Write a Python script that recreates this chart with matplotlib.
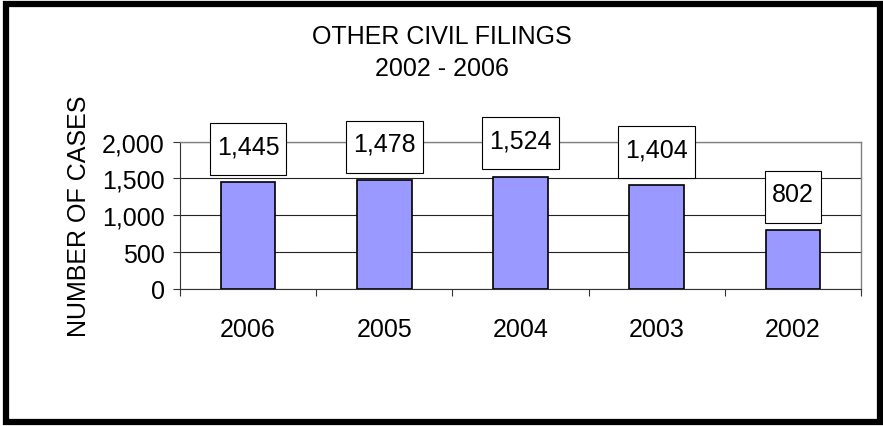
import matplotlib
matplotlib.use('Agg')
import matplotlib.pyplot as plt
from matplotlib.patches import Rectangle
from matplotlib.transforms import IdentityTransform
from matplotlib.ticker import FuncFormatter, FixedLocator

plt.rcParams['font.family'] = ['Liberation Sans', 'DejaVu Sans']

years = ['2006', '2005', '2004', '2003', '2002']
cases = [1445, 1478, 1524, 1404, 802]
y_ticks = [0, 500, 1000, 1500, 2000]

fs = 18
fig = plt.figure(figsize=(8.83, 4.27), dpi=100)
ax = fig.add_axes([180 / 883, 1 - 290 / 427, 681 / 883, 147.5 / 427])

x = range(len(years))
ax.bar(x, cases, width=0.4, color='#9999FF', edgecolor='black', linewidth=1.2, zorder=3)

labels = []
for xi, v in zip(x, cases):
    t = ax.annotate(f'{v:,}', xy=(xi, v), xytext=(0, 26), textcoords='offset points',
                    ha='center', va='center', fontsize=fs, zorder=6, annotation_clip=False)
    labels.append(t)

ax.set_xlim(-0.5, len(years) - 0.5)
ax.set_ylim(0, 2000)
ax.set_yticks(y_ticks)
ax.yaxis.set_major_formatter(FuncFormatter(lambda v, p: f'{int(v):,}'))
ax.set_xticks(list(x))
ax.set_xticklabels(years)
ax.xaxis.set_minor_locator(FixedLocator([i - 0.5 for i in range(len(years) + 1)]))
ax.tick_params(axis='x', which='major', length=0, pad=20, labelsize=fs)
ax.tick_params(axis='x', which='minor', length=5, width=0.8, color='#333333', direction='out')
ax.tick_params(axis='y', length=5, width=0.8, color='#333333', pad=6, labelsize=fs)

ax.grid(axis='y', color='#222222', linewidth=0.8, zorder=0)
ax.set_axisbelow(True)
for s in ['top', 'right']:
    ax.spines[s].set_color('#808080')
    ax.spines[s].set_linewidth(1.0)
for s in ['left', 'bottom']:
    ax.spines[s].set_color('#333333')
    ax.spines[s].set_linewidth(0.8)

ax.set_ylabel('NUMBER OF CASES', fontsize=fs, labelpad=8)

fig.text(0.5, 1 - 25 / 427, 'OTHER CIVIL FILINGS\n2002 - 2006', ha='center', va='top',
         fontsize=fs, linespacing=1.4)

# tall Excel-style label boxes drawn around the measured text
fig.canvas.draw()
renderer = fig.canvas.get_renderer()
for t in labels:
    bb = t.get_window_extent(renderer)
    cy = bb.y0 + bb.height / 2 - 3
    box = Rectangle((bb.x0 - 7, cy - 26), bb.width + 14, 52, transform=IdentityTransform(),
                    facecolor='white', edgecolor='black', linewidth=0.8, zorder=5, clip_on=False)
    ax.add_artist(box)

fig.patches.append(Rectangle((6 / 883, 4 / 427), 874 / 883, 418 / 427, transform=fig.transFigure,
                             fill=False, edgecolor='black', linewidth=4.5))

fig.savefig('out.png', dpi=100)
